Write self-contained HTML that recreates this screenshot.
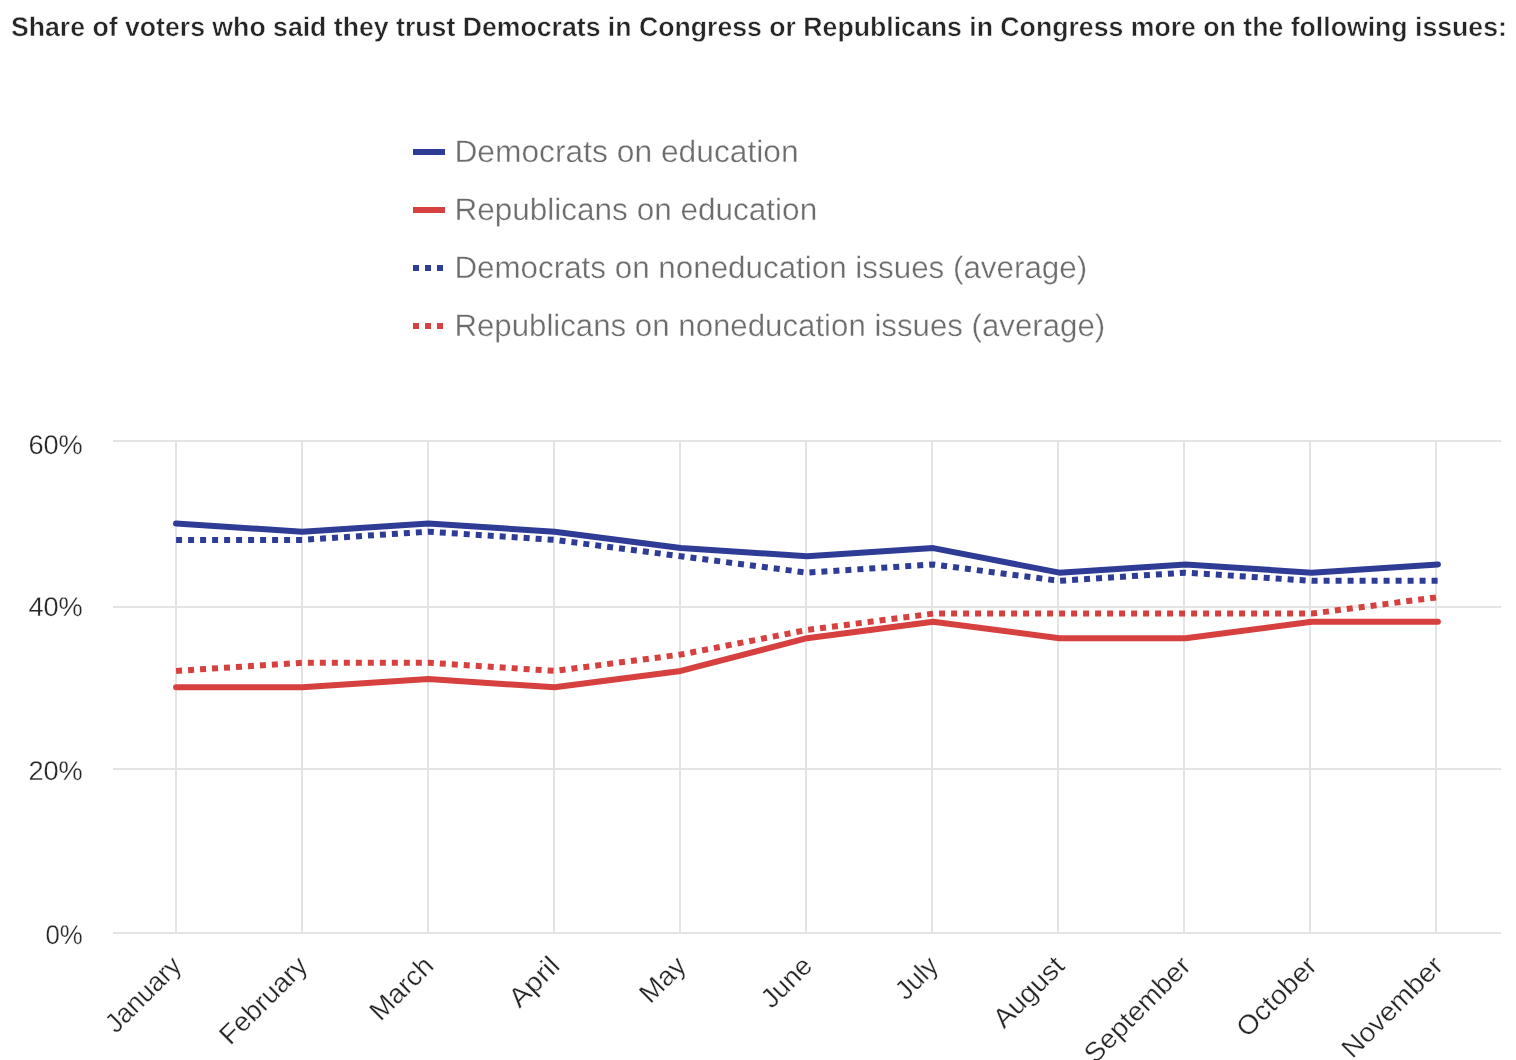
<!DOCTYPE html>
<html lang="en"><head><meta charset="utf-8"><title>Trust in Congress on education</title>
<style>
html,body{margin:0;padding:0;background:#fff;}
body{width:1516px;height:1060px;overflow:hidden;font-family:"Liberation Sans",sans-serif;}
svg{display:block;}
text{font-family:"Liberation Sans",sans-serif;text-rendering:geometricPrecision;}
.title{font-weight:bold;font-size:27px;fill:#262626;stroke:#fff;stroke-width:0.45px;}
.leg{font-size:31px;fill:#6c6c6c;stroke:#fff;stroke-width:0.35px;}
.ax{font-size:27px;fill:#262626;stroke:#fff;stroke-width:0.3px;}
.xl{font-size:27px;fill:#262626;stroke:#fff;stroke-width:0.3px;}
</style></head><body>
<svg width="1516" height="1060" viewBox="0 0 1516 1060">
<rect width="1516" height="1060" fill="#fff"/>
<text class="title" x="10.9" y="36" textLength="1496" lengthAdjust="spacingAndGlyphs">Share of voters who said they trust Democrats in Congress or Republicans in Congress more on the following issues:</text>

<line x1="413" y1="152" x2="445" y2="152" stroke="#2e3c96" stroke-width="6"/>
<text class="leg" x="454.4" y="162" textLength="344.3" lengthAdjust="spacingAndGlyphs">Democrats on education</text>
<line x1="413" y1="210" x2="445" y2="210" stroke="#d6403e" stroke-width="6"/>
<text class="leg" x="454.4" y="220" textLength="362.8" lengthAdjust="spacingAndGlyphs">Republicans on education</text>
<line x1="413" y1="268" x2="445" y2="268" stroke="#2e3c96" stroke-width="6" stroke-dasharray="6 6"/>
<text class="leg" x="454.4" y="278" textLength="632.8" lengthAdjust="spacingAndGlyphs">Democrats on noneducation issues (average)</text>
<line x1="413" y1="326" x2="445" y2="326" stroke="#d6403e" stroke-width="6" stroke-dasharray="6 6"/>
<text class="leg" x="454.4" y="336" textLength="650.8" lengthAdjust="spacingAndGlyphs">Republicans on noneducation issues (average)</text>
<rect x="175" y="441" width="2" height="492" fill="#e4e4e4"/>
<rect x="301" y="441" width="2" height="492" fill="#e4e4e4"/>
<rect x="427" y="441" width="2" height="492" fill="#e4e4e4"/>
<rect x="553" y="441" width="2" height="492" fill="#e4e4e4"/>
<rect x="679" y="441" width="2" height="492" fill="#e4e4e4"/>
<rect x="805" y="441" width="2" height="492" fill="#e4e4e4"/>
<rect x="931" y="441" width="2" height="492" fill="#e4e4e4"/>
<rect x="1057" y="441" width="2" height="492" fill="#e4e4e4"/>
<rect x="1183" y="441" width="2" height="492" fill="#e4e4e4"/>
<rect x="1309" y="441" width="2" height="492" fill="#e4e4e4"/>
<rect x="1435" y="441" width="2" height="492" fill="#e4e4e4"/>
<rect x="113" y="440" width="1388" height="2" fill="#e4e4e4"/>
<text class="ax" x="82.8" y="453.6" text-anchor="end" textLength="54.4" lengthAdjust="spacingAndGlyphs">60%</text>
<rect x="113" y="606" width="1388" height="2" fill="#e4e4e4"/>
<text class="ax" x="82.8" y="615.6" text-anchor="end" textLength="54.4" lengthAdjust="spacingAndGlyphs">40%</text>
<rect x="113" y="768" width="1388" height="2" fill="#e4e4e4"/>
<text class="ax" x="82.8" y="779.6" text-anchor="end" textLength="54.4" lengthAdjust="spacingAndGlyphs">20%</text>
<rect x="113" y="932" width="1388" height="2" fill="#e4e4e4"/>
<text class="ax" x="82.8" y="943.6" text-anchor="end" textLength="37.3" lengthAdjust="spacingAndGlyphs">0%</text>
<polyline points="176.09,687.30 302.27,687.30 428.45,679.11 554.64,687.30 680.82,670.92 807.00,638.16 933.18,621.78 1059.36,638.16 1185.55,638.16 1311.73,621.78 1437.91,621.78" fill="none" stroke="#d6403e" stroke-width="6" stroke-linecap="round" stroke-linejoin="round"/>
<polyline points="176.09,523.50 302.27,531.69 428.45,523.50 554.64,531.69 680.82,548.07 807.00,556.26 933.18,548.07 1059.36,572.64 1185.55,564.45 1311.73,572.64 1437.91,564.45" fill="none" stroke="#2e3c96" stroke-width="6" stroke-linecap="round" stroke-linejoin="round"/>
<polyline points="176.09,539.88 302.27,539.88 428.45,531.69 554.64,539.88 680.82,556.26 807.00,572.64 933.18,564.45 1059.36,580.83 1185.55,572.64 1311.73,580.83 1437.91,580.83" fill="none" stroke="#2e3c96" stroke-width="6" stroke-dasharray="6 6"/>
<polyline points="176.09,670.92 302.27,662.73 428.45,662.73 554.64,670.92 680.82,654.54 807.00,629.97 933.18,613.59 1059.36,613.59 1185.55,613.59 1311.73,613.59 1437.91,597.21" fill="none" stroke="#d6403e" stroke-width="6" stroke-dasharray="6 6"/>
<text class="xl" text-anchor="end" transform="translate(182.79,967.4) rotate(-45)" textLength="94.6" lengthAdjust="spacingAndGlyphs">January</text>
<text class="xl" text-anchor="end" transform="translate(308.97,967.4) rotate(-45)" textLength="111.2" lengthAdjust="spacingAndGlyphs">February</text>
<text class="xl" text-anchor="end" transform="translate(435.15,967.4) rotate(-45)" textLength="77.4" lengthAdjust="spacingAndGlyphs">March</text>
<text class="xl" text-anchor="end" transform="translate(561.34,967.4) rotate(-45)" textLength="59" lengthAdjust="spacingAndGlyphs">April</text>
<text class="xl" text-anchor="end" transform="translate(687.52,967.4) rotate(-45)" textLength="52.6" lengthAdjust="spacingAndGlyphs">May</text>
<text class="xl" text-anchor="end" transform="translate(813.70,967.4) rotate(-45)" textLength="59.5" lengthAdjust="spacingAndGlyphs">June</text>
<text class="xl" text-anchor="end" transform="translate(939.88,967.4) rotate(-45)" textLength="48" lengthAdjust="spacingAndGlyphs">July</text>
<text class="xl" text-anchor="end" transform="translate(1066.06,967.4) rotate(-45)" textLength="87.9" lengthAdjust="spacingAndGlyphs">August</text>
<text class="xl" text-anchor="end" transform="translate(1192.25,967.4) rotate(-45)" textLength="137.4" lengthAdjust="spacingAndGlyphs">September</text>
<text class="xl" text-anchor="end" transform="translate(1318.43,967.4) rotate(-45)" textLength="100.6" lengthAdjust="spacingAndGlyphs">October</text>
<text class="xl" text-anchor="end" transform="translate(1444.61,967.4) rotate(-45)" textLength="130.3" lengthAdjust="spacingAndGlyphs">November</text>
</svg></body></html>
